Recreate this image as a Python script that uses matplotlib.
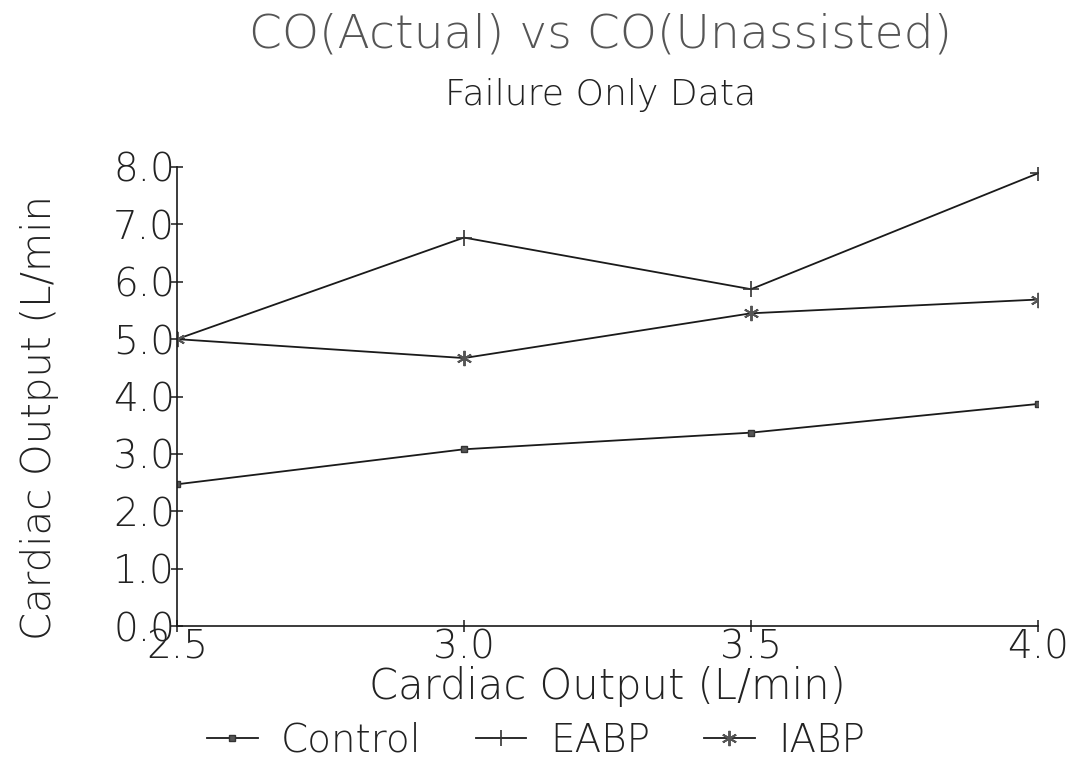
import numpy as np
import matplotlib
matplotlib.use("Agg")
import matplotlib.pyplot as plt

# unassisted cardiac output (L/min)
co_unassisted = [2.5, 3.0, 3.5, 4.0]

# actual cardiac output per group (L/min)
control = [2.47, 3.08, 3.37, 3.87]
eabp = [5.0, 6.77, 5.87, 7.89]
iabp = [5.0, 4.67, 5.45, 5.69]

y_ticks = [0.0, 1.0, 2.0, 3.0, 4.0, 5.0, 6.0, 7.0, 8.0]
x_ticks = [2.5, 3.0, 3.5, 4.0]

plt.rcParams['font.family'] = ['DejaVu Sans']
plt.rcParams['font.weight'] = 'light'
plt.rcParams['axes.labelweight'] = 'light'

fig = plt.figure(figsize=(10.72, 7.64), dpi=100)
ax = fig.add_axes([177/1072, 1 - 626/764, (1038-177)/1072, (626-167)/764])

ink = "#1a1a1a"
ax.plot(co_unassisted, control, color=ink, linewidth=1.3, marker='s',
        markersize=4, markerfacecolor='#555555', markeredgecolor='#333333', label="Control")
ax.plot(co_unassisted, eabp, color=ink, linewidth=1.3, marker='+',
        markersize=12, markeredgewidth=1.2, markeredgecolor='#333333', label="EABP")
ax.plot(co_unassisted, iabp, color=ink, linewidth=1.3, marker=(6, 2, 0),
        markersize=11, markeredgewidth=1.4, markeredgecolor='#555555', label="IABP")

ax.set_xlim(2.5, 4.0)
ax.set_ylim(0, 8.0)
ax.set_xticks(x_ticks)
ax.set_yticks(y_ticks)
ax.set_xticklabels([f"{v:.1f}" for v in x_ticks])
ax.set_yticklabels([f"{v:.1f}" for v in y_ticks])

for side in ["top", "right"]:
    ax.spines[side].set_visible(False)
for side in ["left", "bottom"]:
    ax.spines[side].set_linewidth(1.2)
    ax.spines[side].set_color(ink)

ax.tick_params(axis='both', direction='inout', length=9, width=1.1, colors=ink,
               labelsize=28, labelcolor="#222222")
ax.tick_params(axis='y', pad=-3)
ax.tick_params(axis='x', pad=-3)

ax.set_xlabel("Cardiac Output (L/min)", fontsize=30, color="#222222", labelpad=0)
fig.text(40/1072, 1 - 640/764, "Cardiac Output (L/min", rotation=90,
         ha='center', va='bottom', fontsize=29, color="#222222")

fig.text(0.56, 1 - 35/764, "CO(Actual) vs CO(Unassisted)", ha='center', va='center',
         fontsize=34, color="#555555")
fig.text(0.56, 1 - 95/764, "Failure Only Data", ha='center', va='center',
         fontsize=26, color="#222222")

fig.legend(loc='center', bbox_to_anchor=(0.50, 1 - 741/764), ncol=3, frameon=False,
           fontsize=28, handlelength=1.3, handletextpad=0.6, columnspacing=1.4,
           labelcolor="#222222")

fig.savefig("out.png", dpi=100)
